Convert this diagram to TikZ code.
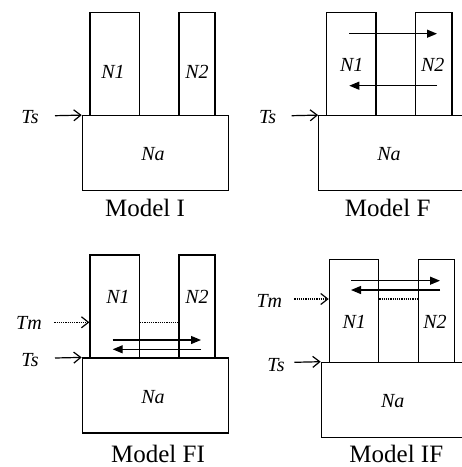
\documentclass[tikz,border=0pt]{standalone}
\usepackage{fontspec}
\setmainfont{Liberation Serif}
\usetikzlibrary{arrows.meta,fit}
\begin{document}
\begin{tikzpicture}[x=1pt,y=-1pt,
  box/.style={draw,line width=1.2pt,inner sep=0pt,rectangle},
  lab/.style={font=\itshape\fontsize{20}{20}\selectfont,inner sep=0pt},
  modelcap/.style={font=\fontsize{25}{25}\selectfont,inner sep=0pt,anchor=base},
  inarrow/.style={line width=1.2pt,-{Straight Barb[length=7pt,width=11pt,line width=1.2pt]}},
  dotarrow/.style={line width=1.2pt,densely dotted,-{Straight Barb[length=7pt,width=11pt,line width=1.2pt]}},
  dotline/.style={line width=1.2pt,densely dotted},
  flow/.style={line width=1.2pt,-{Triangle[length=10pt,width=8pt]}}]
\useasboundingbox (0,0) rectangle (462,467);
\clip (0,0) rectangle (462,467);
% ---------- Model I ----------
\node[box,fit={(90,12.7) (139.3,115.7)}] (n1I) {};
\node[box,fit={(179,12.7) (215,115.7)}] (n2I) {};
\node[box,fit={(82.3,115.7) (228.3,190.7)}] (naI) {};
\node[lab] (l1I) at (113,72) {N1};
\node[lab] (l2I) at (197,72) {N2};
\node[lab] (laI) at (153,154) {Na};
\node[lab] (tsI) at (30,117) {Ts};
\node[modelcap] (mI) at (145,216) {Model I};
\coordinate (tsIs) at (55,115.7);
\draw[inarrow] (tsIs) -- (naI.north west);
% ---------- Model F ----------
\node[box,fit={(326.7,12.7) (376,115.7)}] (n1F) {};
\node[box,fit={(415.3,12.7) (452,115.7)}] (n2F) {};
\node[box,fit={(318.7,115.7) (464.7,190.7)}] (naF) {};
\node[lab] (l1F) at (351.7,65) {N1};
\node[lab] (l2F) at (432.7,65) {N2};
\node[lab] (laF) at (389,154) {Na};
\node[lab] (tsF) at (267.7,117) {Ts};
\node[modelcap] (mF) at (387.7,216) {Model F};
\coordinate (tsFs) at (291.7,115.7);
\draw[inarrow] (tsFs) -- (naF.north west);
\coordinate (fa1) at (349.3,33.7);
\coordinate (fa2) at (437,33.7);
\coordinate (fb1) at (437,85.7);
\coordinate (fb2) at (349.3,85.7);
\draw[flow] (fa1) -- (fa2);
\draw[flow] (fb1) -- (fb2);
% ---------- Model FI ----------
\node[box,fit={(90,255) (139.3,358)}] (n1FI) {};
\node[box,fit={(179,255) (215,358)}] (n2FI) {};
\node[box,fit={(82.3,358) (228.3,433)}] (naFI) {};
\node[lab] (l1FI) at (118,296.7) {N1};
\node[lab] (l2FI) at (197,296.7) {N2};
\node[lab] (laFI) at (153,397) {Na};
\node[lab] (tmFI) at (29,323) {Tm};
\node[lab] (tsFI) at (30,360) {Ts};
\node[modelcap] (mFI) at (158,462.5) {Model FI};
\coordinate (tsFIs) at (55,358);
\draw[inarrow] (tsFIs) -- (naFI.north west);
\coordinate (tmFIs) at (54.3,322.3);
\draw[dotarrow] (tmFIs) -- (tmFIs -| n1FI.west);
\draw[dotline] (tmFIs -| n1FI.east) -- (tmFIs -| n2FI.west);
\coordinate (fia1) at (112.7,340);
\coordinate (fia2) at (201,340);
\coordinate (fib1) at (201,349.3);
\coordinate (fib2) at (112.7,349.3);
\draw[flow] (fia1) -- (fia2);
\draw[flow] (fib1) -- (fib2);
% ---------- Model IF ----------
\node[box,fit={(329.3,259.7) (378.7,362.3)}] (n1IF) {};
\node[box,fit={(418.3,259.7) (454.3,362.3)}] (n2IF) {};
\node[box,fit={(321.3,362.3) (467.3,437.3)}] (naIF) {};
\node[lab] (l1IF) at (354.3,322.3) {N1};
\node[lab] (l2IF) at (435,322.3) {N2};
\node[lab] (laIF) at (392.7,400.7) {Na};
\node[lab] (tmIF) at (269.3,300.7) {Tm};
\node[lab] (tsIF) at (276,365) {Ts};
\node[modelcap] (mIF) at (396.3,462) {Model IF};
\coordinate (tsIFs) at (294.3,362.3);
\draw[inarrow] (tsIFs) -- (naIF.north west);
\coordinate (tmIFs) at (294.3,299);
\draw[dotarrow] (tmIFs) -- (tmIFs -| n1IF.west);
\draw[dotline] (tmIFs -| n1IF.east) -- (tmIFs -| n2IF.west);
\coordinate (ifa1) at (351,280.7);
\coordinate (ifa2) at (440,280.7);
\coordinate (ifb1) at (440,290);
\coordinate (ifb2) at (351,290);
\draw[flow] (ifa1) -- (ifa2);
\draw[flow] (ifb1) -- (ifb2);
\end{tikzpicture}
\end{document}
